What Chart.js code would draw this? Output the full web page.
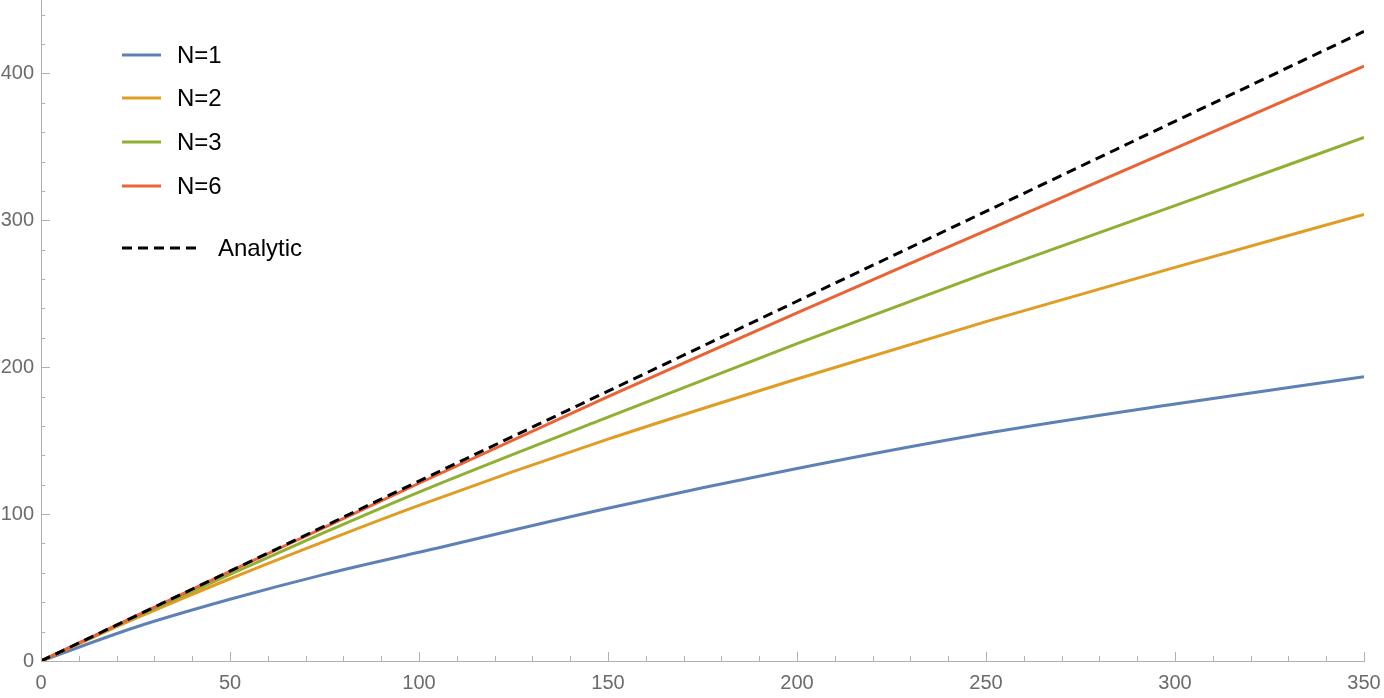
<!DOCTYPE html>
<html>
<head>
<meta charset="utf-8">
<script src="https://cdn.jsdelivr.net/npm/chart.js@4/dist/chart.umd.min.js"></script>
<style>
html,body{margin:0;padding:0;background:#fff;}
#wrap{width:1384px;height:698px;position:relative;}
</style>
</head>
<body>
<div id="wrap"><canvas id="c" width="1384" height="698"></canvas></div>
<script>
// ---- data ----
const xValues   = [0, 25, 50, 75, 100, 150, 200, 250, 300, 350];
const analytic  = [0, 30.6, 61.2, 91.8, 122.5, 183.7, 244.9, 306.1, 367.4, 428.6];
const n6Values  = [0, 30.5, 61, 91, 121, 180, 237, 293, 349, 405];
const n3Values  = [0, 30, 59, 87.5, 115, 166, 216, 264, 310, 356.4];
const n2Values  = [0, 29, 56, 81.5, 106, 151, 192, 231, 268, 304];
const n1Values  = [0, 23, 42, 59, 74, 104, 131, 155, 175, 193.5];
const seriesLabels = ['N=1', 'N=2', 'N=3', 'N=6', 'Analytic'];
const xTickValues = [0, 50, 100, 150, 200, 250, 300, 350];
const yTickValues = [0, 100, 200, 300, 400];

const colors = ['#5e81b5', '#e19c24', '#8fb032', '#eb6235', '#000000'];
const allSeries = [n1Values, n2Values, n3Values, n6Values, analytic];

function pts(arr){ return xValues.map((x,i)=>({x:x, y:arr[i]})); }

const datasets = allSeries.map((arr, i) => ({
  label: seriesLabels[i],
  data: pts(arr),
  borderColor: colors[i],
  backgroundColor: colors[i],
  borderWidth: 3,
  pointRadius: 0,
  fill: false,
  cubicInterpolationMode: 'monotone',
  borderDash: i === 4 ? [10, 6] : [],
  order: 4 - i
}));

const AXIS = '#b0b0b0';
const TICKTXT = '#6b6b6b';
const FONT = '"Liberation Sans", Arial, sans-serif';

const minorTicks = {
  id: 'minorTicks',
  afterDatasetsDraw(chart){
    const ctx = chart.ctx;
    const xs = chart.scales.x, ys = chart.scales.y;
    const y0 = ys.getPixelForValue(0), x0 = xs.getPixelForValue(0);
    ctx.save();
    ctx.strokeStyle = AXIS;
    ctx.lineWidth = 1;
    for (let v = 0; v <= 350; v += 10) {
      const px = Math.round(xs.getPixelForValue(v)) + 0.5;
      const len = (v % 50 === 0) ? 9 : 5;
      ctx.beginPath(); ctx.moveTo(px, y0); ctx.lineTo(px, y0 - len); ctx.stroke();
    }
    for (let v = 0; v <= 440; v += 20) {
      const py = Math.round(ys.getPixelForValue(v)) + 0.5;
      const len = (v % 100 === 0) ? 9 : 4;
      ctx.beginPath(); ctx.moveTo(x0, py); ctx.lineTo(x0 + len, py); ctx.stroke();
    }
    ctx.restore();
  }
};

const customLegend = {
  id: 'customLegend',
  afterDraw(chart){
    const ctx = chart.ctx;
    ctx.save();
    ctx.font = '24px ' + FONT;
    ctx.textBaseline = 'middle';
    ctx.fillStyle = '#000';
    const rowsY = [55, 98, 142, 186, 248];
    chart.data.datasets.forEach((ds, i) => {
      const y = rowsY[i];
      ctx.strokeStyle = ds.borderColor;
      ctx.lineWidth = 3;
      if (ds.borderDash && ds.borderDash.length) {
        ctx.setLineDash(ds.borderDash);
        ctx.beginPath(); ctx.moveTo(122, y); ctx.lineTo(198, y); ctx.stroke();
        ctx.setLineDash([]);
        ctx.fillText(ds.label, 218, y + 1);
      } else {
        ctx.beginPath(); ctx.moveTo(122, y); ctx.lineTo(161, y); ctx.stroke();
        ctx.fillText(ds.label, 177, y + 1);
      }
    });
    ctx.restore();
  }
};

function noPad(s){ s.paddingTop = 0; s.paddingRight = 0; }

new Chart(document.getElementById('c'), {
  type: 'line',
  data: { datasets },
  options: {
    responsive: false,
    animation: false,
    layout: { padding: { left: 0, right: 20, top: 0, bottom: 0 } },
    plugins: { legend: { display: false }, tooltip: { enabled: false } },
    scales: {
      x: {
        type: 'linear', min: 0, max: 350,
        afterBuildTicks(s){ s.ticks = xTickValues.map(v => ({value: v})); },
        afterFit(s){ s.height = 37; noPad(s); },
        grid: { display: false, drawTicks: false },
        border: { display: true, color: AXIS, width: 1 },
        ticks: { color: TICKTXT, font: { size: 20, family: FONT }, padding: 10, maxRotation: 0 }
      },
      y: {
        type: 'linear', min: 0, max: 450,
        afterBuildTicks(s){ s.ticks = yTickValues.map(v => ({value: v})); },
        afterFit(s){ s.width = 41; noPad(s); },
        grid: { display: false, drawTicks: false },
        border: { display: true, color: AXIS, width: 1 },
        ticks: { color: TICKTXT, font: { size: 20, family: FONT }, padding: 7 }
      }
    }
  },
  plugins: [minorTicks, customLegend]
});
</script>
</body>
</html>
